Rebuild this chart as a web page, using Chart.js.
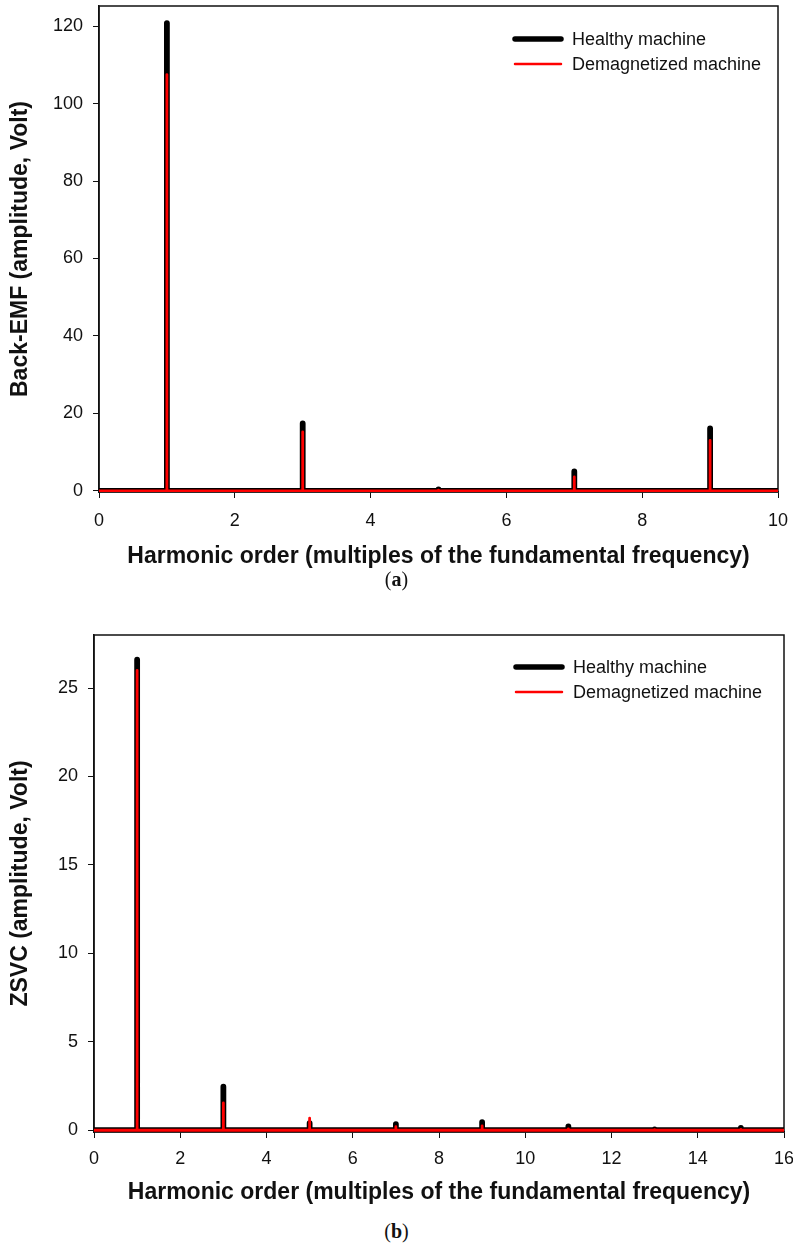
<!DOCTYPE html>
<html>
<head>
<meta charset="utf-8">
<script src="https://cdn.jsdelivr.net/npm/chart.js@4"></script>
<style>
  body { margin: 0; background: #fff; width: 793px; height: 1253px; position: relative; overflow: hidden; }
  canvas { position: absolute; left: 0; }
  .cap { position: absolute; width: 793px; text-align: center; font-family: "Liberation Serif", serif; font-size: 20px; color: #111; }
</style>
</head>
<body>
<canvas id="chartA" width="793" height="572" style="top:0"></canvas>
<div class="cap" style="top:568px">(<b>a</b>)</div>
<canvas id="chartB" width="793" height="580" style="top:628px"></canvas>
<div class="cap" style="top:1220px">(<b>b</b>)</div>
<script>
// (a) back-EMF spectrum
const harmonicsA = [1, 3, 5, 7, 9];
const healthyA = [120.8, 17.4, 0.4, 5.0, 16.1];
const demagA = [107.5, 15.2, 0.2, 3.6, 13.0];
const xTicksA = [0, 2, 4, 6, 8, 10];
const yTicksA = [0, 20, 40, 60, 80, 100, 120];

// (b) ZSVC spectrum
const harmonicsB = [1, 3, 5, 7, 9, 11, 13, 15];
const healthyB = [26.6, 2.46, 0.4, 0.35, 0.45, 0.22, 0.05, 0.13];
const demagB = [26.0, 1.54, 0.68, 0.2, 0.25, 0.08, 0.03, 0.04];
const xTicksB = [0, 2, 4, 6, 8, 10, 12, 14, 16];
const yTicksB = [0, 5, 10, 15, 20, 25];

const labels = ['Healthy machine', 'Demagnetized machine'];

// spikes: baseline along 0, vertical line at each harmonic
function spectrum(orders, amps, xmax) {
  const pts = [{x: 0, y: 0}];
  orders.forEach((h, i) => {
    pts.push({x: h, y: 0}, {x: h, y: amps[i]}, {x: h, y: 0});
  });
  pts.push({x: xmax, y: 0});
  return pts;
}

const frame = {
  id: 'frame',
  beforeDatasetsDraw(chart) {
    const {ctx, chartArea: a} = chart;
    ctx.save();
    ctx.strokeStyle = '#111';
    ctx.lineWidth = 1.5;
    ctx.strokeRect(a.left, a.top, a.right - a.left, a.bottom - a.top);
    ctx.restore();
  },
  afterDraw(chart, args, opts) {
    const {ctx, chartArea: a} = chart;
    ctx.save();
    ctx.font = '18px "Liberation Sans", Arial, sans-serif';
    ctx.textBaseline = 'middle';
    chart.data.datasets.forEach((ds, i) => {
      const y = a.top + opts.top + i * 25;
      const x0 = a.right - opts.right;
      ctx.strokeStyle = ds.borderColor;
      ctx.lineWidth = i === 0 ? 5.5 : 2.5;
      ctx.lineCap = 'round';
      ctx.beginPath();
      ctx.moveTo(x0, y);
      ctx.lineTo(x0 + 46, y);
      ctx.stroke();
      ctx.fillStyle = '#111';
      ctx.fillText(ds.label, x0 + 57, y + 1);
    });
    ctx.restore();
  }
};

function makeChart(id, orders, h, d, xmax, ymin, ymax, xt, yt, yTitle, yWidth, xHeight, xPad, pad, leg) {
  return new Chart(id, {
    type: 'line',
    data: {
      datasets: [
        {label: labels[0], data: spectrum(orders, h, xmax), borderColor: '#000', borderWidth: 5.8, order: 2},
        {label: labels[1], data: spectrum(orders, d, xmax), borderColor: '#ff0000', borderWidth: 2.8, order: 1}
      ]
    },
    options: {
      responsive: false,
      animation: false,
      devicePixelRatio: 1,
      layout: {padding: pad},
      elements: {
        point: {radius: 0},
        line: {tension: 0, borderCapStyle: 'round', borderJoinStyle: 'round', fill: false}
      },
      plugins: {legend: {display: false}, tooltip: {enabled: false}, frame: leg},
      scales: {
        x: {
          type: 'linear', min: 0, max: xmax,
          afterBuildTicks: s => { s.ticks = xt.map(v => ({value: v})); },
          afterFit: s => { s.height = xHeight; s.paddingLeft = 0; s.paddingRight = 0; },
          grid: {display: true, drawOnChartArea: false, drawTicks: true, tickLength: 6, color: '#111'},
          border: {display: true, color: '#111', width: 1.5},
          ticks: {color: '#111', padding: xPad, maxRotation: 0, font: {family: '"Liberation Sans", Arial, sans-serif', size: 18}},
          title: {display: true, text: 'Harmonic order (multiples of the fundamental frequency)', color: '#111',
                  padding: {top: 2, bottom: 2}, font: {family: '"Liberation Sans", Arial, sans-serif', size: 23, weight: 'bold'}}
        },
        y: {
          type: 'linear', min: ymin, max: ymax,
          afterBuildTicks: s => { s.ticks = yt.map(v => ({value: v})); },
          afterFit: s => { s.width = yWidth; s.paddingTop = 0; s.paddingBottom = 0; },
          grid: {display: true, drawOnChartArea: false, drawTicks: true, tickLength: 6, color: '#111'},
          border: {display: true, color: '#111', width: 1.5},
          ticks: {color: '#111', padding: 10, font: {family: '"Liberation Sans", Arial, sans-serif', size: 18}},
          title: {display: true, text: yTitle, color: '#111',
                  padding: {top: 7, bottom: 7}, font: {family: '"Liberation Sans", Arial, sans-serif', size: 23, weight: 'bold'}}
        }
      }
    },
    plugins: [frame]
  });
}

makeChart('chartA', harmonicsA, healthyA, demagA, 10, -0.3, 125.2, xTicksA, yTicksA,
  'Back-EMF (amplitude, Volt)', 99, 80, 12, {top: 6, right: 15, left: 0, bottom: 0}, {top: 33, right: 263});
makeChart('chartB', harmonicsB, healthyB, demagB, 16, -0.1, 28, xTicksB, yTicksB,
  'ZSVC (amplitude, Volt)', 94, 76, 10, {top: 7, right: 9, left: 0, bottom: 0}, {top: 32, right: 268});
</script>
</body>
</html>
